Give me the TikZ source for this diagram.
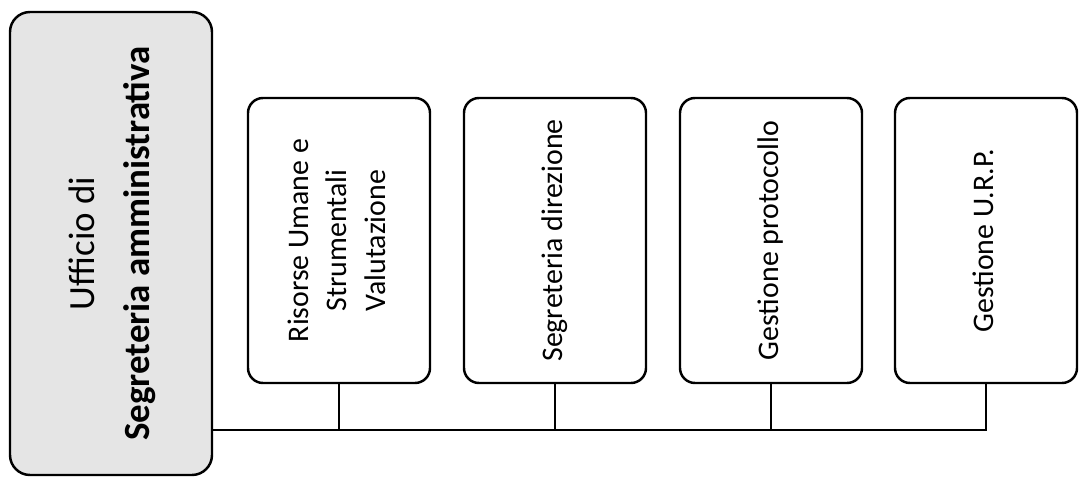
\documentclass[tikz,border=0pt]{standalone}
\usepackage{fontspec}
\setmainfont{Carlito}
\usepackage{graphicx}
\tikzset{
  unitbox/.style={draw, line width=1.4pt, rounded corners=0.3cm, fill=white,
    minimum width=3.64cm, minimum height=5.7cm, inner sep=0pt},
  headbox/.style={draw, line width=1.4pt, rounded corners=0.4cm, fill=black!10,
    minimum width=4.04cm, minimum height=9.26cm, inner sep=0pt},
  link/.style={line width=1.4pt}
}
\newcommand{\vtext}[1]{\rotatebox{90}{\begin{tabular}{c}#1\end{tabular}}}
\begin{document}
\begin{tikzpicture}
    \useasboundingbox (0,0) rectangle (21.6,9.7);
    % Head office
    \node[headbox] (head) at (2.22, 4.83)
      {\fontsize{21}{31}\selectfont\vtext{Ufficio di\\ \textbf{Segreteria amministrativa}}};
    % Units
    \node[unitbox] (risorse) at (6.78, 4.89)
      {\fontsize{17}{22}\selectfont\vtext{Risorse Umane e\\Strumentali\\Valutazione}};
    \node[unitbox] (segreteria) at (11.1, 4.89)
      {\fontsize{17}{22}\selectfont\vtext{Segreteria direzione}};
    \node[unitbox] (protocollo) at (15.42, 4.89)
      {\fontsize{17}{22}\selectfont\vtext{Gestione protocollo}};
    \node[unitbox] (urp) at (19.72, 4.89)
      {\fontsize{17}{22}\selectfont\vtext{Gestione U.R.P.}};
    % Connectors
    \coordinate (bus) at (0, 1.1);
    \draw[link] (head.east |- bus) -| (urp.south);
    \draw[link] (risorse.south) -- (risorse.south |- bus);
    \draw[link] (segreteria.south) -- (segreteria.south |- bus);
    \draw[link] (protocollo.south) -- (protocollo.south |- bus);
\end{tikzpicture}
\end{document}
